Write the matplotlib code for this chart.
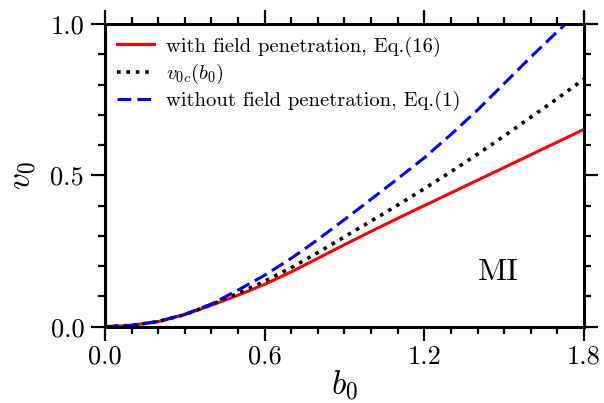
import numpy as np
import matplotlib
matplotlib.use("Agg")
import matplotlib.pyplot as plt
from matplotlib.ticker import MultipleLocator

plt.rcParams['font.family'] = 'serif'
plt.rcParams['font.serif'] = ['cmr10']
plt.rcParams['mathtext.fontset'] = 'cm'
plt.rcParams['axes.formatter.use_mathtext'] = True

b0 = [0.0, 0.1, 0.2, 0.3, 0.4, 0.5, 0.6, 0.7, 0.8, 0.9, 1.0, 1.1, 1.2, 1.3, 1.4, 1.5, 1.6, 1.7, 1.8]
v_with = [0.0, 0.0045, 0.017, 0.040, 0.071, 0.104, 0.140, 0.181, 0.226, 0.271, 0.315, 0.358, 0.400, 0.442, 0.484, 0.526, 0.568, 0.610, 0.652]
v_crit = [0.0, 0.0045, 0.017, 0.040, 0.073, 0.110, 0.150, 0.195, 0.245, 0.297, 0.349, 0.402, 0.456, 0.512, 0.570, 0.630, 0.692, 0.754, 0.818]
v_without = [0.0, 0.0045, 0.017, 0.041, 0.075, 0.121, 0.170, 0.226, 0.288, 0.354, 0.421, 0.489, 0.558, 0.635, 0.716, 0.803, 0.891, 0.975, 1.055]

xticks = [0.0, 0.6, 1.2, 1.8]
xticklabels = ["0.0", "0.6", "1.2", "1.8"]
yticks = [0.0, 0.5, 1.0]
yticklabels = ["0.0", "0.5", "1.0"]

fig = plt.figure(figsize=(6.04, 4.03), dpi=100)
ax = fig.add_axes([0.1738, 0.1893, 0.7931, 0.7511])

ax.plot(b0, v_with, color='#ff0000', lw=2.2, label='with field penetration, Eq.(16)')
ax.plot(b0, v_crit, color='black', lw=2.6, linestyle=(0, (1, 1.6)), label=r'$v_{0c}(b_0)$')
ax.plot(b0, v_without, color='#0000ff', lw=2.2, linestyle=(0, (4.5, 2.0)),
        label='without field penetration, Eq.(1)')

ax.set_xlim(0, 1.8)
ax.set_ylim(0, 1.0)
ax.set_xticks(xticks)
ax.set_xticklabels(xticklabels)
ax.set_yticks(yticks)
ax.set_yticklabels(yticklabels)
ax.xaxis.set_minor_locator(MultipleLocator(0.1))
ax.yaxis.set_minor_locator(MultipleLocator(0.1))

ax.tick_params(which='both', direction='out', top=True, right=True, width=1.6, labelsize=19)
ax.tick_params(axis='y', which='both', pad=5)
ax.tick_params(axis='x', which='both', pad=3)
ax.tick_params(which='major', length=10)
ax.tick_params(which='minor', length=5)
for s in ax.spines.values():
    s.set_linewidth(2.2)

ax.set_xlabel(r'$b_0$', fontsize=24, labelpad=0)
ax.set_ylabel(r'$v_0$', fontsize=24, labelpad=9)

ax.text(1.477, 0.18, 'MI', fontsize=23, ha='center', va='center')

leg = ax.legend(loc='upper left', frameon=False, fontsize=14.8, handlelength=1.8,
                handletextpad=0.58, labelspacing=0.25, borderaxespad=0.2,
                bbox_to_anchor=(0.0, 1.0))

fig.savefig('out.png', dpi=100)
